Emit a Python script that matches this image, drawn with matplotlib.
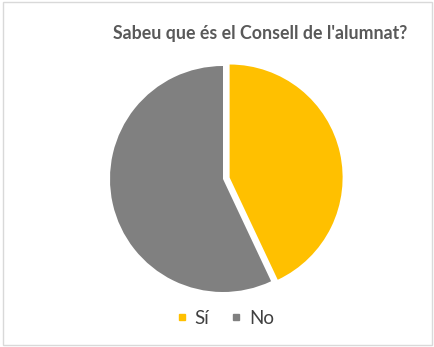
import matplotlib.pyplot as plt
from matplotlib.lines import Line2D
from matplotlib.patches import Rectangle

# data
labels = ['Sí', 'No']
values = [43, 57]
colors = ['#FFC000', '#808080']

title = "Sabeu que és el Consell de l'alumnat?"

plt.rcParams['font.family'] = ['Lato', 'DejaVu Sans']

fig = plt.figure(figsize=(4.35, 3.47), dpi=100)

# light border round the chart area
fig.patches.append(Rectangle((3 / 435, 2 / 347), 429 / 435, 343 / 347,
                             transform=fig.transFigure, fill=False,
                             edgecolor='#D9D9D9', linewidth=1))

# pie centred at (223, 179) px, radius 113 px
ax = fig.add_axes([110 / 435, 55 / 347, 226 / 435, 226 / 347])
ax.pie(values, colors=colors, startangle=90, counterclock=False,
       explode=[0.06, 0], wedgeprops=dict(linewidth=0))
ax.set_xlim(-1, 1)
ax.set_ylim(-1, 1)
ax.set_aspect('equal', adjustable='box')
ax.axis('off')

fig.text(260 / 435, 1 - 33 / 347, title, ha='center', va='center',
         fontsize=12.8, fontweight='bold', color='#595959')

handles = [Line2D([], [], marker='s', linestyle='none', markersize=4.5,
                  markerfacecolor=c, markeredgecolor=c) for c in colors]
fig.legend(handles, labels, loc='center', bbox_to_anchor=(225 / 435, 1 - 318 / 347),
           ncol=2, frameon=False, fontsize=13.5, handlelength=0.6,
           handletextpad=0.4, columnspacing=1.1, labelcolor='#404040')

fig.savefig('out.png', dpi=100)
